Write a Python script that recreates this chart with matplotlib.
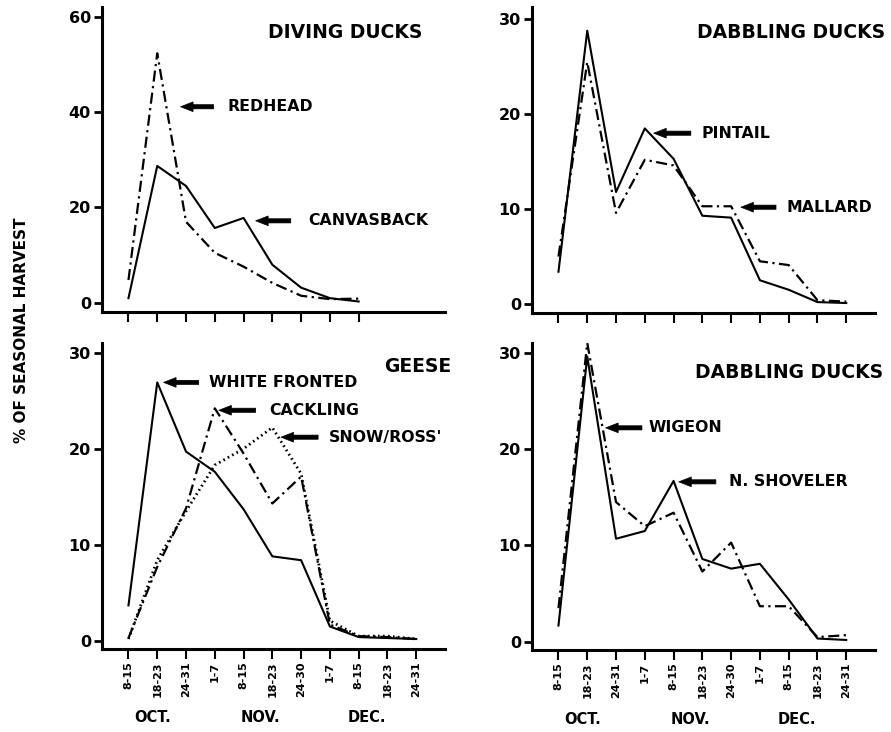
import matplotlib
matplotlib.use("Agg")
import matplotlib.pyplot as plt
import numpy as np

plt.rcParams['font.family'] = ['DejaVu Sans']
plt.rcParams['font.weight'] = 'bold'

# 时间段 (x 轴标签)
periods = ["8-15", "18-23", "24-31", "1-7", "8-15", "18-23", "24-30",
           "1-7", "8-15", "18-23", "24-31"]
months = ["OCT.", "NOV.", "DEC."]
month_pos = [0.85, 4.6, 8.3]

# 潜水鸭
canvasback = [1.0, 28.7, 24.5, 15.7, 17.8, 8.0, 3.2, 1.0, 0.3]
redhead = [4.8, 52.3, 17.0, 10.5, 7.6, 4.2, 1.5, 0.8, 0.9]
# 浮水鸭 (上)
pintail = [3.4, 28.8, 11.8, 18.5, 15.3, 9.3, 9.1, 2.5, 1.5, 0.2, 0.1]
mallard = [5.0, 25.5, 9.6, 15.2, 14.6, 10.3, 10.3, 4.5, 4.1, 0.4, 0.25]
# 雁
white_fronted = [3.7, 26.9, 19.7, 17.6, 13.7, 8.8, 8.4, 1.5, 0.4, 0.3, 0.2]
cackling = [0.3, 7.7, 13.8, 24.2, 19.5, 14.3, 17.1, 1.7, 0.5, 0.4, 0.2]
snow_ross = [0.2, 8.4, 13.5, 18.3, 20.0, 22.2, 17.4, 2.1, 0.5, 0.5, 0.2]
# 浮水鸭 (下)
shoveler = [1.7, 29.6, 10.7, 11.5, 16.7, 8.6, 7.6, 8.1, 4.4, 0.35, 0.2]
wigeon = [3.5, 31.0, 14.5, 12.0, 13.4, 7.3, 10.3, 3.7, 3.7, 0.5, 0.7]

DASHDOT = (5, 2, 1, 2)

fig = plt.figure(figsize=(8.91, 7.32), dpi=100)
W, H = 891, 732

def make_axes(left_px, bottom_px, top_px, width_px):
    return fig.add_axes([left_px / W, 1 - bottom_px / H, width_px / W, (bottom_px - top_px) / H])

ax_tl = make_axes(102, 312, 7, 343)
ax_tr = make_axes(532, 313, 7, 343)
ax_bl = make_axes(102, 649, 343, 343)
ax_br = make_axes(532, 650, 343, 343)

# 绘图公共参数
def style(ax, ylim, yticks, nticks, labels=False):
    ax.set_xlim(-0.92, 11.0)
    ax.set_ylim(ylim)
    for s in ['top', 'right']:
        ax.spines[s].set_visible(False)
    for s in ['left', 'bottom']:
        ax.spines[s].set_linewidth(2.2)
    ax.set_yticks(yticks)
    ax.set_xticks(range(nticks))
    ax.tick_params(axis='y', direction='out', length=6, width=2, labelsize=11.5, pad=2)
    ax.tick_params(axis='x', direction='out', length=7, width=1.5, pad=2)
    if labels:
        ax.set_xticklabels(periods[:nticks], rotation=90, fontsize=8, fontweight='bold', va='top')
        for p, m in zip(month_pos, months):
            ax.text(p, -0.225, m, transform=ax.get_xaxis_transform(), ha='center', va='center',
                    fontsize=10.5, fontweight='bold')
    else:
        ax.set_xticklabels([])
    for t in ax.get_yticklabels():
        t.set_fontweight('bold')

def arrow_label(ax, tip, tail_x, text_x, text):
    ax.annotate('', xy=tip, xytext=(tail_x, tip[1]),
                arrowprops=dict(arrowstyle='simple,head_length=0.9,head_width=0.7,tail_width=0.3',
                                fc='black', ec='black', lw=0.5, shrinkA=0, shrinkB=0))
    ax.text(text_x, tip[1], text, ha='left', va='center', fontsize=11.3, fontweight='bold')

# 左上: DIVING DUCKS
x9 = np.arange(len(canvasback))
ax_tl.plot(x9, canvasback, color='black', lw=1.5)
ax_tl.plot(x9, redhead, color='black', lw=1.6, dashes=DASHDOT)
style(ax_tl, (-1.9, 62), [0, 20, 40, 60], 9)
arrow_label(ax_tl, (1.81, 41.1), 2.96, 3.45, "REDHEAD")
arrow_label(ax_tl, (4.42, 17.2), 5.64, 6.24, "CANVASBACK")

# 右上: DABBLING DUCKS
x11 = np.arange(len(periods))
ax_tr.plot(x11, pintail, color='black', lw=1.5)
ax_tr.plot(x11, mallard, color='black', lw=1.6, dashes=DASHDOT)
style(ax_tr, (-0.95, 31.3), [0, 10, 20, 30], 11)
arrow_label(ax_tr, (3.31, 18.0), 4.6, 4.98, "PINTAIL")
arrow_label(ax_tr, (6.34, 10.2), 7.56, 7.91, "MALLARD")

# 左下: GEESE
ax_bl.plot(x11, white_fronted, color='black', lw=1.5)
ax_bl.plot(x11, cackling, color='black', lw=1.6, dashes=DASHDOT)
ax_bl.plot(x11, snow_ross, color='black', lw=2.0, dashes=(0.6, 1.2))
style(ax_bl, (-0.84, 31.0), [0, 10, 20, 30], 11, labels=True)
arrow_label(ax_bl, (1.22, 26.9), 2.44, 2.79, "WHITE FRONTED")
arrow_label(ax_bl, (3.14, 24.0), 4.42, 4.88, "CACKLING")
arrow_label(ax_bl, (5.30, 21.2), 6.59, 6.97, "SNOW/ROSS'")

# 右下: DABBLING DUCKS
ax_br.plot(x11, shoveler, color='black', lw=1.5)
ax_br.plot(x11, wigeon, color='black', lw=1.6, dashes=DASHDOT)
style(ax_br, (-0.84, 31.0), [0, 10, 20, 30], 11, labels=True)
arrow_label(ax_br, (1.64, 22.2), 2.9, 3.14, "WIGEON")
arrow_label(ax_br, (4.18, 16.6), 5.47, 5.92, "N. SHOVELER")

# 标题
fig.text(422 / W, 1 - 33 / H, "DIVING DUCKS", ha='right', va='center', fontsize=13.5, fontweight='bold')
fig.text(885 / W, 1 - 33 / H, "DABBLING DUCKS", ha='right', va='center', fontsize=13.5, fontweight='bold')
fig.text(451 / W, 1 - 367 / H, "GEESE", ha='right', va='center', fontsize=13.5, fontweight='bold')
fig.text(883 / W, 1 - 372 / H, "DABBLING DUCKS", ha='right', va='center', fontsize=13.5, fontweight='bold')

fig.text(22 / W, 1 - 330 / H, "% OF SEASONAL HARVEST", rotation=90, ha='center', va='center',
         fontsize=11, fontweight='bold')

fig.savefig("out.png", dpi=100)
